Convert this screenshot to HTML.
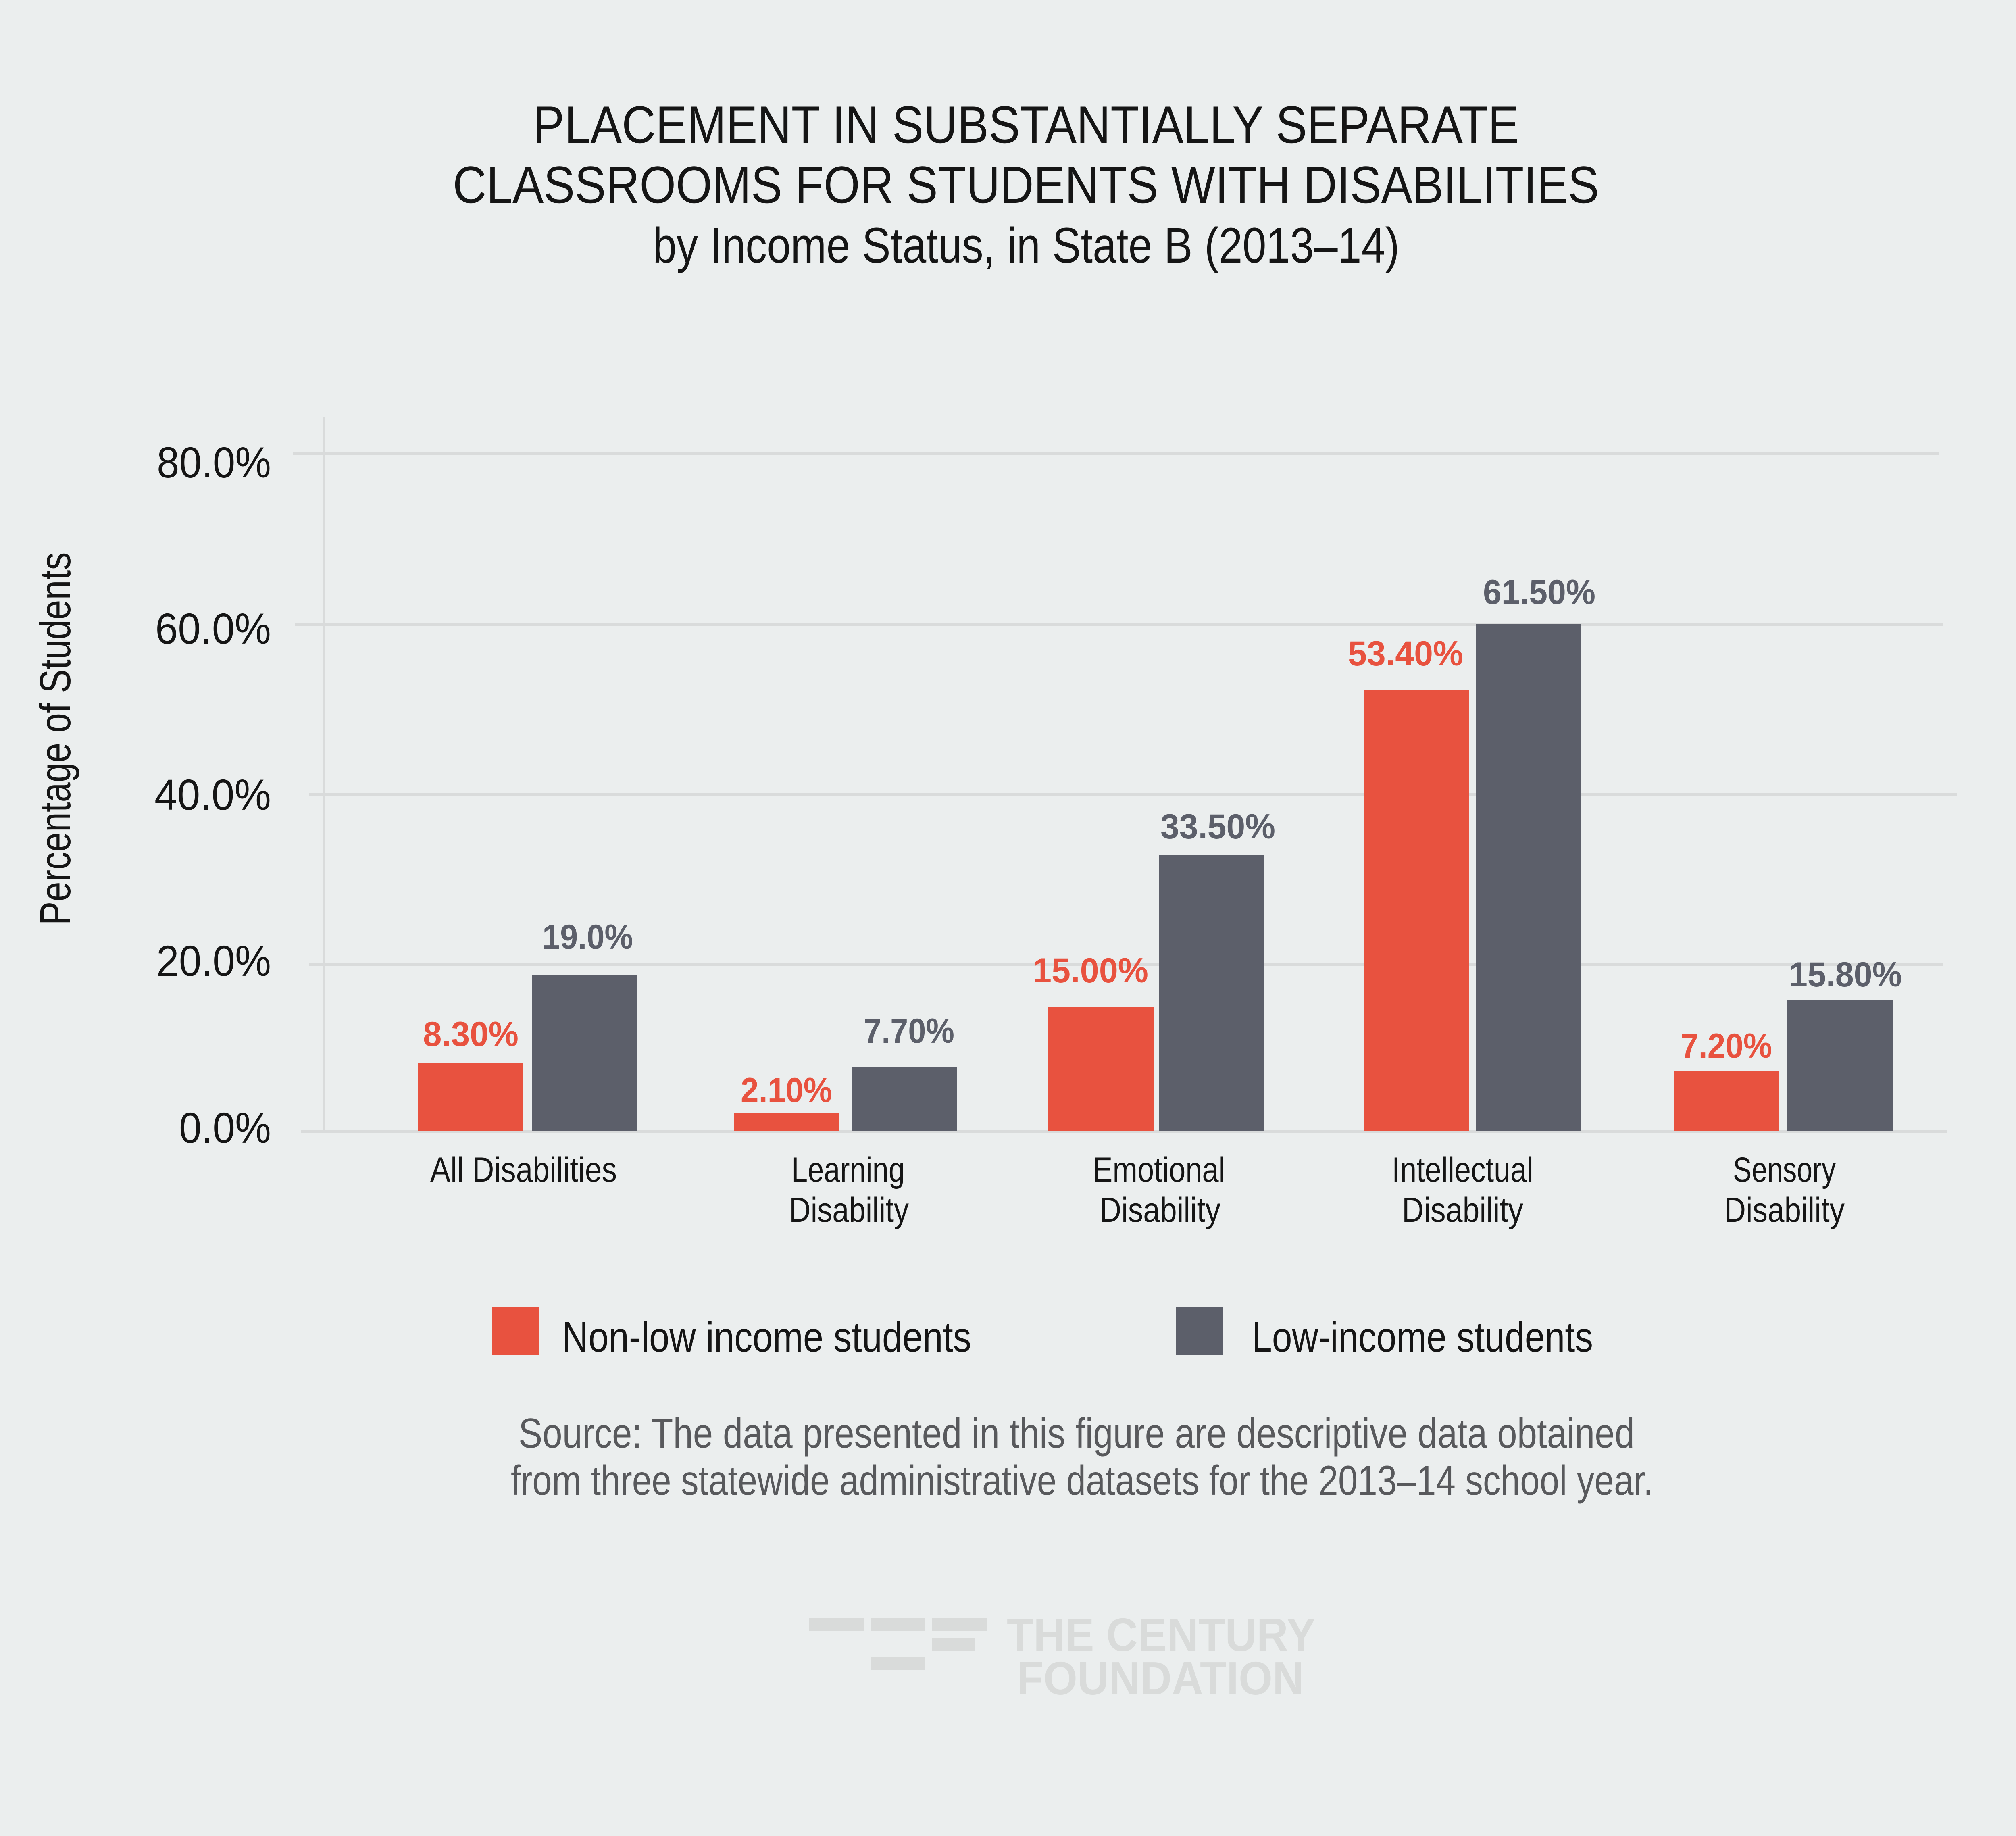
<!DOCTYPE html>
<html>
<head>
<meta charset="utf-8">
<style>
  html, body { margin:0; padding:0; background:#ebeeee; }
  svg { display:block; }
  text { font-family: "Liberation Sans", "DejaVu Sans", sans-serif; }
</style>
</head>
<body>
<svg xmlns="http://www.w3.org/2000/svg" width="5073" height="4553" viewBox="0 0 5073 4553">
  <rect x="0" y="0" width="5073" height="4553" fill="#ebeeee"/>

  <!-- Title -->
  <text x="1322" y="354" font-size="130" fill="#151515" textLength="2446" lengthAdjust="spacingAndGlyphs">PLACEMENT IN SUBSTANTIALLY SEPARATE</text>
  <text x="1123" y="503" font-size="130" fill="#151515" textLength="2843" lengthAdjust="spacingAndGlyphs">CLASSROOMS FOR STUDENTS WITH DISABILITIES</text>
  <text x="1619" y="651" font-size="123" fill="#151515" textLength="1852" lengthAdjust="spacingAndGlyphs">by Income Status, in State B (2013–14)</text>

  <!-- Gridlines -->
  <rect x="726" y="1122" width="4084" height="7" fill="#d9dbdb"/>
  <rect x="731" y="1546" width="4089" height="7" fill="#d9dbdb"/>
  <rect x="767" y="1967" width="4086" height="7" fill="#d9dbdb"/>
  <rect x="767" y="2389" width="4053" height="7" fill="#d9dbdb"/>
  <rect x="746" y="2803" width="4084" height="7" fill="#d9dbdb"/>
  <!-- Y axis line -->
  <rect x="801" y="1034" width="5" height="1772" fill="#d9dbdb"/>

  <!-- Y tick labels -->
  <g font-size="108" fill="#151515" text-anchor="end">
    <text x="672" y="1184" textLength="283" lengthAdjust="spacingAndGlyphs">80.0%</text>
    <text x="672" y="1596" textLength="287" lengthAdjust="spacingAndGlyphs">60.0%</text>
    <text x="672" y="2008" textLength="289" lengthAdjust="spacingAndGlyphs">40.0%</text>
    <text x="672" y="2420" textLength="284" lengthAdjust="spacingAndGlyphs">20.0%</text>
    <text x="672" y="2834" textLength="228" lengthAdjust="spacingAndGlyphs">0.0%</text>
  </g>

  <!-- Y axis title -->
  <text transform="translate(174,1832) rotate(-90)" text-anchor="middle" font-size="108" fill="#151515" textLength="925" lengthAdjust="spacingAndGlyphs">Percentage of Students</text>

  <!-- Bars -->
  <g fill="#e8523f">
    <rect x="1037" y="2637" width="261" height="167"/>
    <rect x="1820" y="2760" width="261" height="44"/>
    <rect x="2600" y="2497" width="261" height="307"/>
    <rect x="3383" y="1711" width="261" height="1093"/>
    <rect x="4152" y="2656" width="261" height="148"/>
  </g>
  <g fill="#5c5f6a">
    <rect x="1320" y="2418" width="261" height="386"/>
    <rect x="2112" y="2645" width="262" height="159"/>
    <rect x="2875" y="2121" width="261" height="683"/>
    <rect x="3660" y="1548" width="261" height="1256"/>
    <rect x="4433" y="2481" width="262" height="323"/>
  </g>

  <!-- Value labels -->
  <g font-size="86" font-weight="bold">
    <text x="1049" y="2594" fill="#e8523f" textLength="237" lengthAdjust="spacingAndGlyphs">8.30%</text>
    <text x="1345" y="2353" fill="#5c5f6a" textLength="225" lengthAdjust="spacingAndGlyphs">19.0%</text>
    <text x="1837" y="2733" fill="#e8523f" textLength="227" lengthAdjust="spacingAndGlyphs">2.10%</text>
    <text x="2142" y="2586" fill="#5c5f6a" textLength="225" lengthAdjust="spacingAndGlyphs">7.70%</text>
    <text x="2561" y="2436" fill="#e8523f" textLength="287" lengthAdjust="spacingAndGlyphs">15.00%</text>
    <text x="2878" y="2079" fill="#5c5f6a" textLength="285" lengthAdjust="spacingAndGlyphs">33.50%</text>
    <text x="3343" y="1650" fill="#e8523f" textLength="286" lengthAdjust="spacingAndGlyphs">53.40%</text>
    <text x="3678" y="1498" fill="#5c5f6a" textLength="279" lengthAdjust="spacingAndGlyphs">61.50%</text>
    <text x="4168" y="2623" fill="#e8523f" textLength="227" lengthAdjust="spacingAndGlyphs">7.20%</text>
    <text x="4437" y="2446" fill="#5c5f6a" textLength="280" lengthAdjust="spacingAndGlyphs">15.80%</text>
  </g>

  <!-- Category labels -->
  <g font-size="86" fill="#151515">
    <text x="1067" y="2930" textLength="463" lengthAdjust="spacingAndGlyphs">All Disabilities</text>
    <text x="1963" y="2930" textLength="281" lengthAdjust="spacingAndGlyphs">Learning</text>
    <text x="1957" y="3030" textLength="297" lengthAdjust="spacingAndGlyphs">Disability</text>
    <text x="2710" y="2930" textLength="329" lengthAdjust="spacingAndGlyphs">Emotional</text>
    <text x="2727" y="3030" textLength="300" lengthAdjust="spacingAndGlyphs">Disability</text>
    <text x="3452" y="2930" textLength="351" lengthAdjust="spacingAndGlyphs">Intellectual</text>
    <text x="3477" y="3030" textLength="301" lengthAdjust="spacingAndGlyphs">Disability</text>
    <text x="4298" y="2930" textLength="255" lengthAdjust="spacingAndGlyphs">Sensory</text>
    <text x="4276" y="3030" textLength="299" lengthAdjust="spacingAndGlyphs">Disability</text>
  </g>

  <!-- Legend -->
  <rect x="1219" y="3242" width="118" height="117" fill="#e8523f"/>
  <text x="1394" y="3352" font-size="106" fill="#151515" textLength="1015" lengthAdjust="spacingAndGlyphs">Non-low income students</text>
  <rect x="2917" y="3242" width="117" height="117" fill="#5c5f6a"/>
  <text x="3105" y="3352" font-size="106" fill="#151515" textLength="846" lengthAdjust="spacingAndGlyphs">Low-income students</text>

  <!-- Source -->
  <g font-size="104" fill="#58595c">
    <text x="1286" y="3590" textLength="2768" lengthAdjust="spacingAndGlyphs">Source: The data presented in this figure are descriptive data obtained</text>
    <text x="1267" y="3707" textLength="2833" lengthAdjust="spacingAndGlyphs">from three statewide administrative datasets for the 2013–14 school year.</text>
  </g>

  <!-- Logo -->
  <g fill="#d9dbda">
    <rect x="2007" y="4012" width="135" height="32"/>
    <rect x="2160" y="4012" width="135" height="32"/>
    <rect x="2312" y="4012" width="135" height="32"/>
    <rect x="2312" y="4061" width="106" height="32"/>
    <rect x="2160" y="4110" width="135" height="32"/>
    <text x="2497" y="4094" font-size="116" font-weight="bold" textLength="766" lengthAdjust="spacingAndGlyphs">THE CENTURY</text>
    <text x="2522" y="4202" font-size="116" font-weight="bold" textLength="712" lengthAdjust="spacingAndGlyphs">FOUNDATION</text>
  </g>
</svg>
</body>
</html>
